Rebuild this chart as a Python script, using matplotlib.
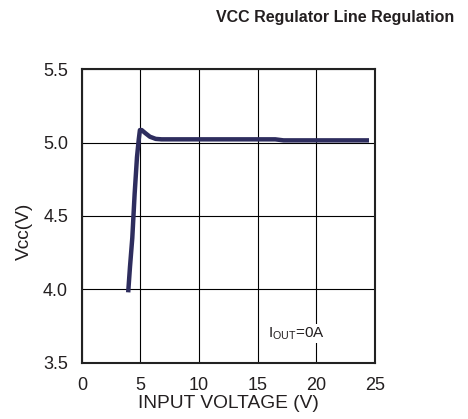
import matplotlib
matplotlib.use("Agg")
import matplotlib.pyplot as plt

plt.rcParams['font.family'] = ['Liberation Sans', 'DejaVu Sans']

vin = [3.95, 4.1, 4.3, 4.5, 4.7, 4.85, 4.95, 5.1, 5.4, 5.8, 6.3, 6.8, 8, 10, 12, 14, 16.5, 17.2, 20, 22, 24.5]
vcc = [3.98, 4.15, 4.35, 4.65, 4.9, 5.02, 5.085, 5.085, 5.065, 5.04, 5.025, 5.022, 5.022, 5.022, 5.022, 5.022, 5.022, 5.015, 5.015, 5.015, 5.015]
xticks = [0, 5, 10, 15, 20, 25]
yticks = [3.5, 4.0, 4.5, 5.0, 5.5]

txt = '#231f20'
fig = plt.figure(figsize=(4.68, 4.19), dpi=100)
ax = fig.add_axes([0.175, 0.134, 0.626, 0.701])
ax.plot(vin, vcc, color='#2e2d5e', lw=3.2, solid_capstyle='butt', zorder=3)
ax.set_xlim(0, 25)
ax.set_ylim(3.5, 5.5)
ax.set_xticks(xticks)
ax.set_yticks(yticks)
ax.set_yticklabels([f"{v:.1f}" for v in yticks])
ax.grid(True, color='black', lw=0.8)
ax.tick_params(length=0, labelsize=13, colors=txt)
ax.tick_params(axis='x', pad=10)
ax.tick_params(axis='y', pad=10)
for s in ax.spines.values():
    s.set_linewidth(1.5)
    s.set_color('#222222')
fig.text(0.488, 0.038, 'INPUT VOLTAGE (V)', fontsize=13.8, ha='center', va='center', color=txt)
fig.text(0.053, 0.449, 'Vcc(V)', fontsize=13.8, rotation=90, ha='center', va='center', color=txt)
ax.text(18.3, 3.7, r'I$_{\mathregular{OUT}}$=0A', fontsize=11, ha='center', va='center',
        color=txt, bbox=dict(facecolor='white', edgecolor='none', pad=1.0), zorder=4)
fig.text(0.716, 0.958, 'VCC Regulator Line Regulation', fontsize=11.5, fontweight='bold',
         ha='center', va='center', color=txt)
fig.savefig('out.png', dpi=100)
